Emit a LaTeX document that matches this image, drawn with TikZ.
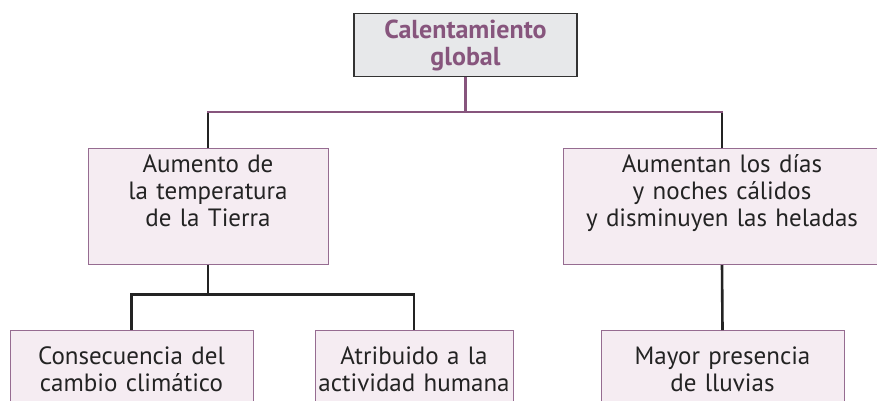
\documentclass[tikz,border=0pt]{standalone}
\usepackage{fontspec}
\setmainfont{PT Sans}
\usepackage{tikz}
\usetikzlibrary{positioning, calc}
\definecolor{malva}{RGB}{135,85,125}
\definecolor{malvaborde}{RGB}{150,108,145}
\definecolor{rosapalido}{RGB}{245,236,242}
\definecolor{grisclaro}{RGB}{231,232,234}
\definecolor{tinta}{RGB}{35,35,35}

\begin{document}
\begin{tikzpicture}[x=1pt, y=-1pt,
      every node/.style={font=\fontsize{25}{27}\selectfont, text=tinta},
      raiz/.style={draw=black!80, line width=1.2pt, fill=grisclaro, align=center,
                   text width=223pt, inner xsep=0pt, inner ysep=6pt,
                   font=\fontsize{26}{27}\selectfont\bfseries, text=malva},
      caja/.style={draw=malvaborde, line width=1pt, fill=rosapalido, align=center,
                   inner xsep=0pt, inner ysep=6pt, anchor=north},
      rama/.style={draw=malva, line width=2.6pt},
      enlace/.style={draw=tinta, line width=2.6pt}]

    \useasboundingbox (0,0) rectangle (877,400);
    \clip (0,0) rectangle (877,400);

    \node[raiz] (cal) at (465.5,45) {Calentamiento\\global};

    \node[caja, text width=240pt, text depth=86pt] (aum) at (208,148)
         {Aumento de\\la temperatura\\de la Tierra};
    \node[caja, text width=318pt, text depth=86pt] (dias) at (722,148)
         {Aumentan los días\\y noches cálidos\\y disminuyen las heladas};

    \node[caja, text width=243pt, text depth=80pt, inner ysep=16pt] (cons) at (131.5,330)
         {Consecuencia del\\cambio climático};
    \node[caja, text width=198pt, text depth=80pt, inner ysep=16pt] (atri) at (414,330)
         {Atribuido a la\\actividad humana};
    \node[caja, text width=243pt, text depth=80pt, inner ysep=16pt] (llu) at (722.5,330)
         {Mayor presencia\\de lluvias};

    \coordinate (nudo1) at ($(cal.south)+(0,35)$);
    \coordinate (nudo2) at ($(aum.south)+(0,30)$);

    \draw[enlace] (aum.north) -- (aum.north |- nudo1);
    \draw[enlace] (dias.north) -- (dias.north |- nudo1);
    \draw[rama] (cal.south) -- (nudo1);
    \draw[rama, line cap=rect] (aum.north |- nudo1) -- (dias.north |- nudo1);

    \draw[enlace] (aum.south) -- (nudo2);
    \draw[enlace, line cap=rect] (cons.north |- nudo2) -- (atri.north |- nudo2);
    \draw[enlace] (cons.north |- nudo2) -- (cons.north);
    \draw[enlace] (atri.north |- nudo2) -- (atri.north);
    \draw[enlace] (dias.south) -- (llu.north);
  \end{tikzpicture}
\end{document}
